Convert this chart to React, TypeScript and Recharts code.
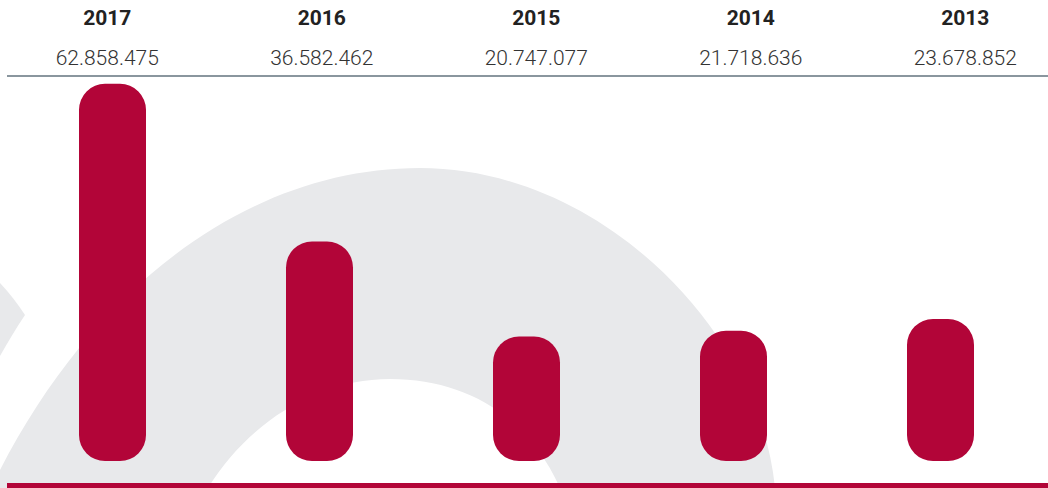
import React from "react";
import { BarChart, Bar, XAxis, YAxis } from "recharts";

const years = ["2017", "2016", "2015", "2014", "2013"];
const amounts = [62858475, 36582462, 20747077, 21718636, 23678852];
const amountLabels = ["62.858.475", "36.582.462", "20.747.077", "21.718.636", "23.678.852"];

const BAR_RED = "#b20538";
const ARC_GREY = "#e8e9eb";

const chartData = years.map((year, i) => ({ year, amount: amounts[i] }));

function Backdrop() {
    // decorative grey ring behind the bars
    return (
        <svg width={1048} height={488} style={{ position: "absolute", left: 0, top: 0 }}>
            <path
                d="M 0 488 L 0 470 C 95 285, 250 168, 420 168 C 600 168, 760 330, 775 488 L 560 488 C 530 420, 470 379, 390 379 C 320 379, 250 420, 208 488 Z"
                fill={ARC_GREY}
            />
            <path d="M 0 283 C 10 294, 18 304, 25 315 C 16 328, 8 342, 0 356 Z" fill={ARC_GREY} />
        </svg>
    );
}

function Header() {
    return (
        <div style={{ position: "absolute", left: 0, top: 0, width: 1048, height: 80, overflow: "hidden" }}>
            {years.map((y, i) => (
                <div
                    key={y}
                    style={{
                        position: "absolute",
                        left: i * 214.5,
                        top: 0,
                        width: 214.5,
                        textAlign: "center",
                        fontFamily: "Roboto, sans-serif",
                    }}
                >
                    <div style={{ position: "absolute", top: 5, width: "100%", fontSize: 21, lineHeight: "26px", fontWeight: 700, color: "#222" }}>
                        {y}
                    </div>
                    <div style={{ position: "absolute", top: 45, width: "100%", fontSize: 21, lineHeight: "26px", fontWeight: 300, color: "#333" }}>
                        {amountLabels[i]}
                    </div>
                </div>
            ))}
            <div style={{ position: "absolute", left: 7, top: 75, width: 1041, height: 2, background: "#8a969e" }} />
        </div>
    );
}

export default function App() {
    return (
        <div style={{ position: "absolute", left: 0, top: 0, width: 1048, height: 488, background: "#fff", overflow: "hidden" }}>
            <Backdrop />
            <Header />
            <div style={{ position: "absolute", left: 0, top: 0 }}>
                <BarChart
                    width={1048}
                    height={488}
                    data={chartData}
                    margin={{ top: 41, right: 4, bottom: 27, left: 9 }}
                >
                    <XAxis dataKey="year" hide />
                    <YAxis hide domain={[0, 70000000]} />
                    <Bar
                        dataKey="amount"
                        fill={BAR_RED}
                        barSize={67}
                        radius={[26, 26, 26, 26]}
                        isAnimationActive={false}
                    />
                </BarChart>
            </div>
            <div style={{ position: "absolute", left: 7, top: 483, width: 1041, height: 5, background: BAR_RED }} />
        </div>
    );
}
